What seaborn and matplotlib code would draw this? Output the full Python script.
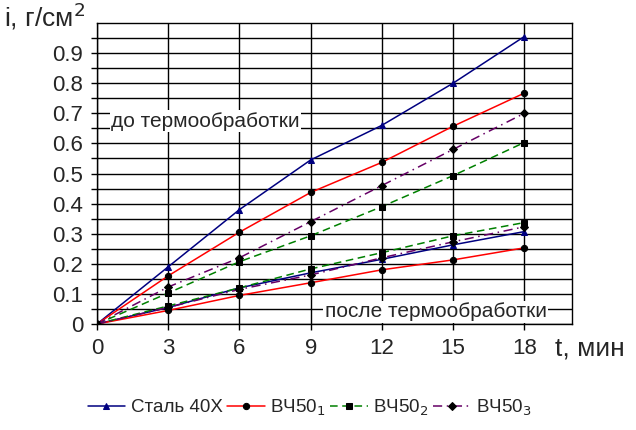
import numpy as np
import pandas as pd
import matplotlib
matplotlib.use("Agg")
import matplotlib.pyplot as plt
import seaborn as sns

# время, мин
t = [0, 3, 6, 9, 12, 15, 18]

# до термообработки
steel_before = [0, 0.19, 0.38, 0.545, 0.66, 0.80, 0.955]
vch1_before = [0, 0.16, 0.305, 0.437, 0.537, 0.657, 0.767]
vch2_before = [0, 0.103, 0.207, 0.293, 0.39, 0.493, 0.603]
vch3_before = [0, 0.123, 0.22, 0.34, 0.46, 0.58, 0.70]

# после термообработки
steel_after = [0, 0.055, 0.12, 0.17, 0.215, 0.263, 0.307]
vch1_after = [0, 0.045, 0.095, 0.137, 0.18, 0.213, 0.253]
vch2_after = [0, 0.06, 0.12, 0.183, 0.237, 0.293, 0.337]
vch3_after = [0, 0.055, 0.115, 0.163, 0.22, 0.273, 0.323]

names = ["Сталь 40Х", "ВЧ50$_1$", "ВЧ50$_2$", "ВЧ50$_3$"]
y_ticks = [0, 0.1, 0.2, 0.3, 0.4, 0.5, 0.6, 0.7, 0.8, 0.9]
y_labels = ["0", "0.1", "0.2", "0.3", "0.4", "0.5", "0.6", "0.7", "0.8", "0.9"]

sns.set_style("white")
plt.rcParams['font.family'] = ['Liberation Sans', 'DejaVu Sans']

fig = plt.figure(figsize=(6.36, 4.3), dpi=100)
ax = fig.add_axes([0.1525, 0.2465, 0.7465, 0.7])

styles = [
    dict(color="#000080", marker="^", dashes=None),
    dict(color="#ff0000", marker="o", dashes=None),
    dict(color="#008000", marker="s", dashes=(5, 3)),
    dict(color="#660066", marker="D", dashes=(6, 3, 1, 3)),
]

before = [steel_before, vch1_before, vch2_before, vch3_before]
after = [steel_after, vch1_after, vch2_after, vch3_after]

for i, st in enumerate(styles):
    for vals, lab in [(before[i], names[i]), (after[i], None)]:
        df = pd.DataFrame({"t": t, "i": vals})
        msize = 5 if st["marker"] in ("^", "s") else 4.5
        sns.lineplot(data=df, x="t", y="i", ax=ax, color=st["color"], lw=1.1,
                     marker=st["marker"], markersize=msize,
                     markerfacecolor="black" if i > 0 else st["color"],
                     markeredgecolor="black" if i > 0 else st["color"],
                     label=lab, legend=False)
        if st["dashes"] is not None:
            ax.lines[-1].set_dashes(st["dashes"])

ax.set_xlim(0, 20)
ax.set_ylim(0, 1.0)
ax.set_xticks(t)
ax.set_xticklabels([str(v) for v in t])
ax.set_yticks(y_ticks)
ax.set_yticklabels(y_labels)
ax.set_yticks(np.arange(0.05, 1.0, 0.1), minor=True)
ax.grid(True, which="both", color="black", lw=1)
ax.set_axisbelow(True)
ax.tick_params(axis="both", which="both", direction="out", length=4, width=1,
               color="black", labelsize=16, pad=6, left=True, bottom=True)
for s in ax.spines.values():
    s.set_color("black")
    s.set_linewidth(1)
ax.set_xlabel("")
ax.set_ylabel("")

ax.text(0.6, 0.705, "до термообработки", fontsize=15, va="top", ha="left",
        bbox=dict(facecolor="white", edgecolor="none", pad=1))
ax.text(9.6, 0.04, "после термообработки", fontsize=15, va="center", ha="left",
        bbox=dict(facecolor="white", edgecolor="none", pad=1))

fig.text(0.006, 0.962, "i, г/см$^2$", fontsize=19, va="center", ha="left")
fig.text(0.873, 0.19, "t, мин", fontsize=19, va="center", ha="left")

handles = [ax.lines[0], ax.lines[2], ax.lines[4], ax.lines[6]]
fig.legend(handles, names, loc="center", bbox_to_anchor=(0.487, 0.052), ncol=4,
           frameon=False, fontsize=13.5, handlelength=2.0, columnspacing=0.25,
           handletextpad=0.3)

fig.savefig("out.png", dpi=100)
